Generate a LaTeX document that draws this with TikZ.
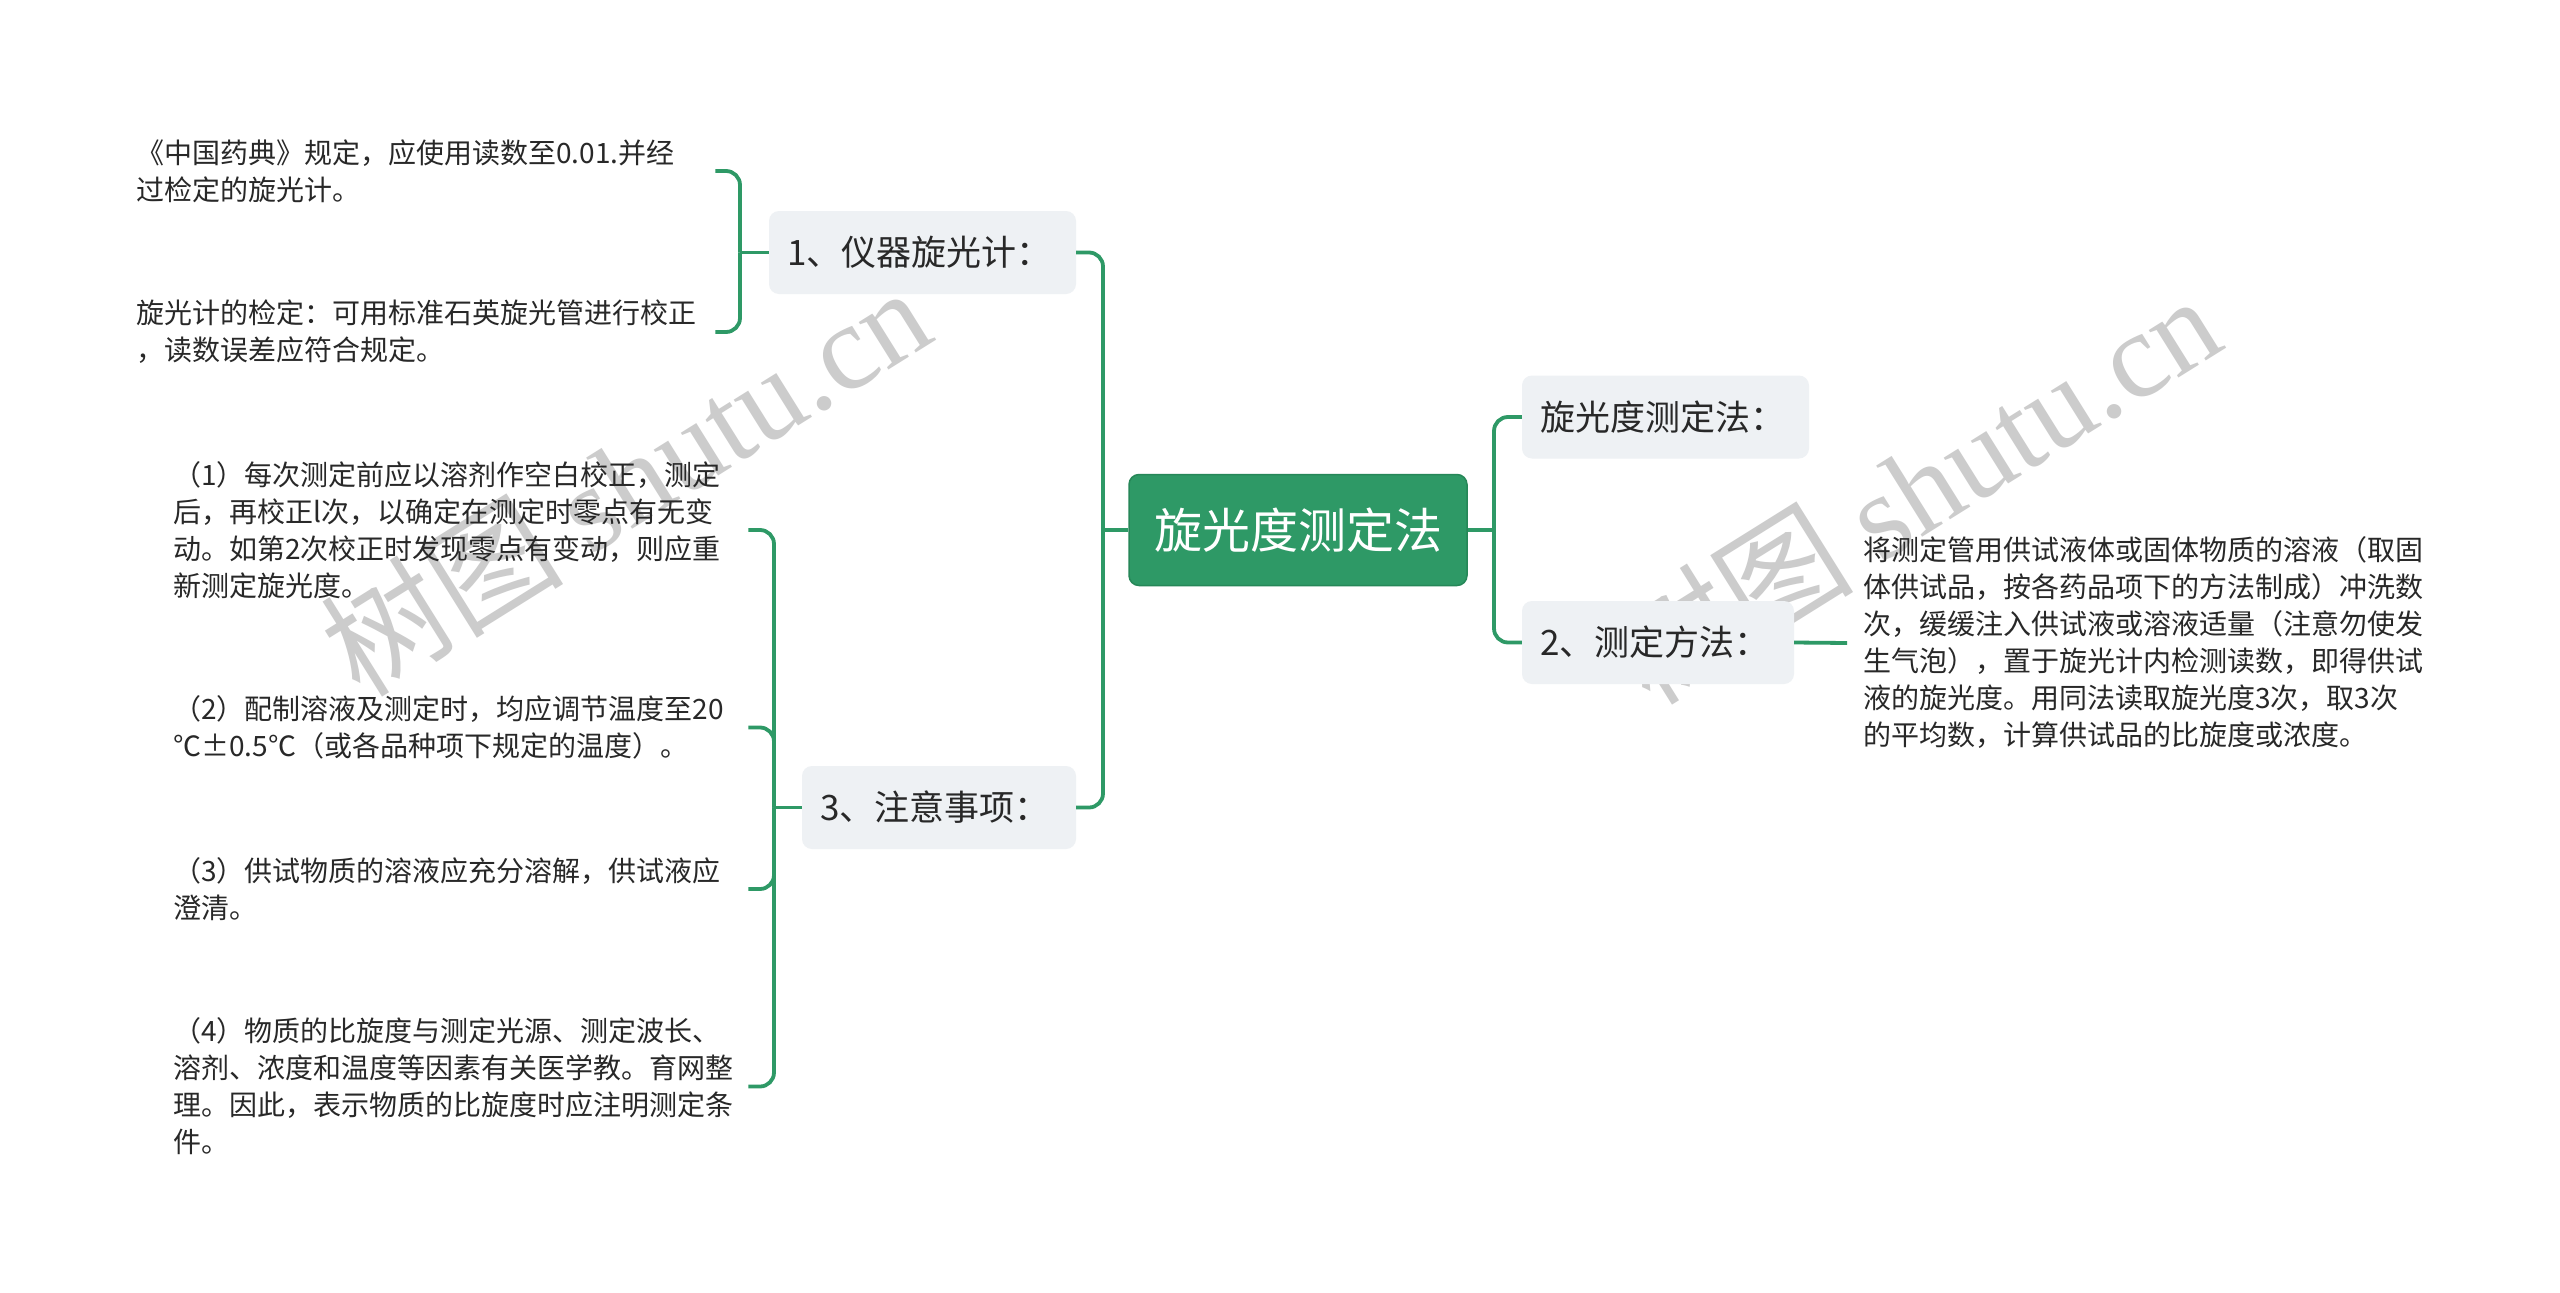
\documentclass[tikz,border=0pt]{standalone}
\usepackage{fontspec}
\setmainfont{Noto Sans CJK SC}
\newfontfamily\wmserif{Liberation Serif}
\newfontfamily\cjkfont{Noto Sans CJK SC}
\definecolor{rootg}{RGB}{46,153,102}
\definecolor{rootd}{RGB}{38,135,88}
\definecolor{lineg}{RGB}{46,153,102}
\definecolor{boxg}{RGB}{238,241,244}
\definecolor{txt}{RGB}{40,40,40}
\definecolor{wmgray}{RGB}{204,204,204}
\tikzset{
  conn/.style={draw=lineg, line width=3.8pt, rounded corners=14pt},
  rootbox/.style={fill=rootg, draw=rootd, line width=1.5pt, rounded corners=10pt, text=white,
    font=\fontsize{48}{56}\selectfont, minimum width=338pt, minimum height=111pt, inner sep=0pt},
  branch/.style={fill=boxg, rounded corners=10pt, text=txt, font=\fontsize{35}{42}\selectfont,
    minimum height=83pt, inner xsep=18pt, inner ysep=0pt, align=left},
  leafA/.style={text=txt, font=\fontsize{28}{37}\selectfont, align=left, inner sep=0pt,
    text width=579pt, anchor=west},
  leafB/.style={text=txt, font=\fontsize{28}{37}\selectfont, align=left, inner sep=0pt,
    text width=575pt, anchor=west},
  leafR/.style={text=txt, font=\fontsize{28}{37}\selectfont, align=left, inner ysep=0pt,
    inner xsep=16pt, text width=570pt, anchor=west},
  wm/.style={text=wmgray, font=\fontsize{122}{130}\selectfont, inner sep=0pt, rotate=32, anchor=base west},
}
\begin{document}
\begin{tikzpicture}[x=1pt,y=-1pt]
\fill[white] (0,0) rectangle (2560,1293);
\path[use as bounding box] (0,0) rectangle (2560,1293);

% watermarks
\node[wm] (wm1) at (360,700) {{\cjkfont 树图} {\wmserif shutu.cn}};
\node[wm] (wm2) at (1650,708) {{\cjkfont 树图} {\wmserif shutu.cn}};

% root
\node[rootbox] (root) at (1298,530) {旋光度测定法};

% branches
\node[branch, text width=271pt] (n1) at (922.5,252.5) {1、仪器旋光计：};
\node[branch, text width=238pt] (n3) at (939,807.5) {3、注意事项：};
\node[branch, text width=251pt] (nA) at (1665.5,417) {旋光度测定法：};
\node[branch, text width=236pt] (n2) at (1658,642.5) {2、测定方法：};

% leaves of branch 1
\node[leafA] (l1a) at (136,171) {《中国药典》规定，应使用读数至0.01.并经\\过检定的旋光计。};
\node[leafA] (l1b) at (136,332) {旋光计的检定：可用标准石英旋光管进行校正\\，读数误差应符合规定。};

% leaves of branch 3
\node[leafB] (l31) at (173,530) {（1）每次测定前应以溶剂作空白校正，测定\\后，再校正l次，以确定在测定时零点有无变\\动。如第2次校正时发现零点有变动，则应重\\新测定旋光度。};
\node[leafB] (l32) at (173,727.5) {（2）配制溶液及测定时，均应调节温度至20\\℃±0.5℃（或各品种项下规定的温度）。};
\node[leafB] (l33) at (173,889) {（3）供试物质的溶液应充分溶解，供试液应\\澄清。};
\node[leafB] (l34) at (173,1086.5) {（4）物质的比旋度与测定光源、测定波长、\\溶剂、浓度和温度等因素有关医学教。育网整\\理。因此，表示物质的比旋度时应注明测定条\\件。};

% right leaf
\node[leafR] (lr) at (1847,643) {将测定管用供试液体或固体物质的溶液（取固\\体供试品，按各药品项下的方法制成）冲洗数\\次，缓缓注入供试液或溶液适量（注意勿使发\\生气泡），置于旋光计内检测读数，即得供试\\液的旋光度。用同法读取旋光度3次，取3次\\的平均数，计算供试品的比旋度或浓度。};

% junctions
\coordinate (jL) at (1103,530);
\coordinate (jR) at (1494,530);
\coordinate (j1) at (740,252.5);
\coordinate (j3) at (774,807.5);

% connectors
\draw[conn] (root.west) -- (jL);
\draw[conn] (jL) |- (n1.east);
\draw[conn] (jL) |- (n3.east);
\draw[conn] (root.east) -- (jR);
\draw[conn] (jR) |- (nA.west);
\draw[conn] (jR) |- (n2.west);
\draw[conn] (n1.west) -- (j1);
\draw[conn] (j1) |- (l1a.east);
\draw[conn] (j1) |- (l1b.east);
\draw[conn] (n3.west) -- (j3);
\draw[conn] (j3) |- (l31.east);
\draw[conn] (j3) |- (l32.east);
\draw[conn] (j3) |- (l33.east);
\draw[conn] (j3) |- (l34.east);
\draw[conn] (n2.east) -- (lr.west);
\end{tikzpicture}
\end{document}
